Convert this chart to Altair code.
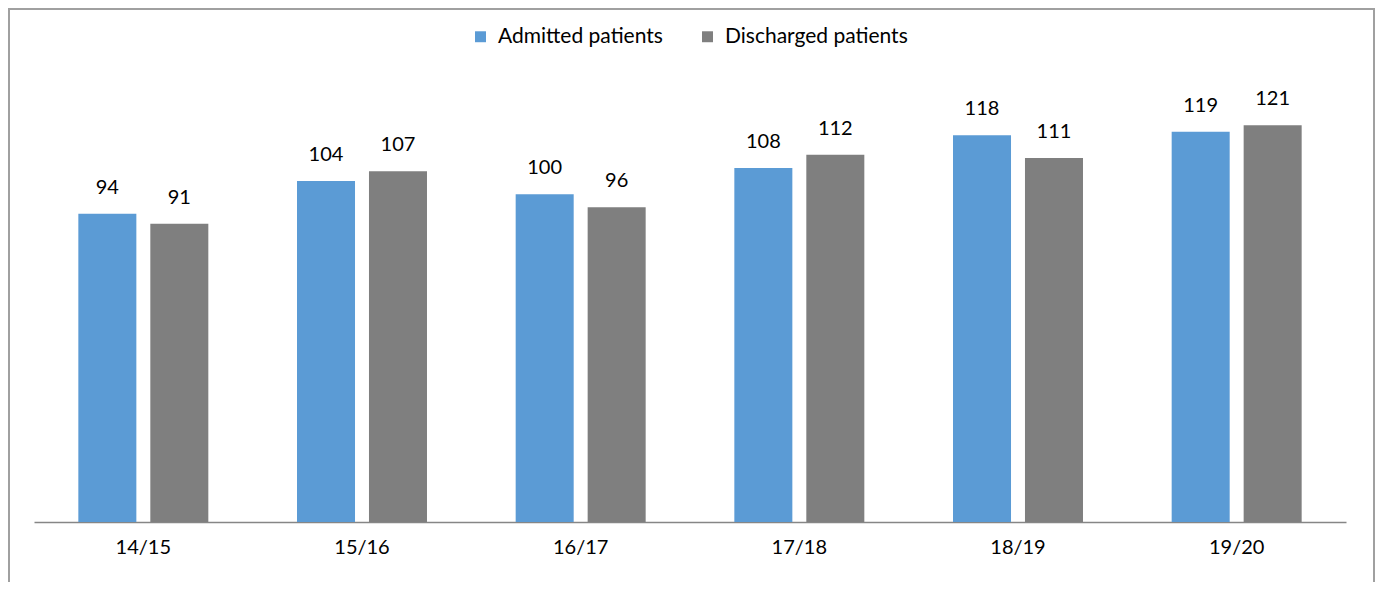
import altair as alt
import pandas as pd

years = ["14/15", "15/16", "16/17", "17/18", "18/19", "19/20"]
admitted = [94, 104, 100, 108, 118, 119]
discharged = [91, 107, 96, 112, 111, 121]
series = ["Admitted patients", "Discharged patients"]
colors = ["#5B9BD5", "#7F7F7F"]

rows = []
for i, y in enumerate(years):
    rows.append({"year": y, "series": series[0], "value": admitted[i]})
    rows.append({"year": y, "series": series[1], "value": discharged[i]})
df = pd.DataFrame(rows)

W = 1312
H = 459
FONT = "Lato"

x = alt.X("year:N", sort=years, title=None,
          scale=alt.Scale(paddingInner=0, paddingOuter=0),
          axis=alt.Axis(labelAngle=0, ticks=False, domainColor="#868686", domainWidth=1.5,
                        labelFontSize=20, labelFont=FONT, labelColor="#000000", labelPadding=15))
xo = alt.XOffset("series:N", sort=series,
                 scale=alt.Scale(paddingInner=0.194, paddingOuter=0.616))
y = alt.Y("value:Q", scale=alt.Scale(domain=[0, 140], nice=False), axis=None)

bars = alt.Chart(df).mark_bar().encode(
    x=x, xOffset=xo, y=y,
    color=alt.Color("series:N", sort=series,
                    scale=alt.Scale(domain=series, range=colors),
                    legend=alt.Legend(title=None, orient="none", direction="horizontal",
                                      legendX=436, legendY=-37, symbolType="square",
                                      symbolSize=120, labelFontSize=21, labelFont=FONT,
                                      labelColor="#000000", columnPadding=34, labelLimit=500,
                                      symbolStrokeWidth=0, labelOffset=7)),
)

labels = alt.Chart(df).mark_text(baseline="bottom", dy=-16, fontSize=20, font=FONT,
                                 color="#000000").encode(
    x=x, xOffset=xo, y=y, text=alt.Text("value:Q"))

border = alt.Chart(df).mark_rect(fill=None, stroke="#A0A0A0", strokeWidth=1.5).encode(
    x=alt.value(-25), x2=alt.value(1340), y=alt.value(-54), y2=alt.value(H + 80))

chart = alt.layer(border, bars, labels).properties(
    width=W, height=H,
    autosize=alt.AutoSizeParams(type="none"),
    padding={"left": 26, "top": 55, "right": 29, "bottom": 60},
).configure_view(stroke=None)

chart.save("out.html", embed_options={"renderer": "svg", "actions": False})
